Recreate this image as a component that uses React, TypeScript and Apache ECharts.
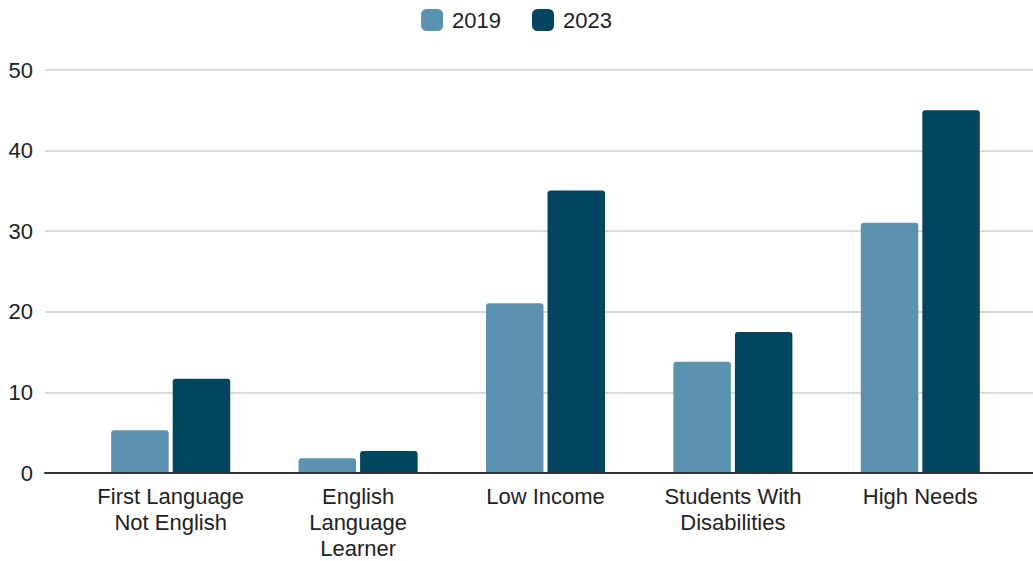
import React, { useEffect, useRef } from "react";
import * as echarts from "echarts";

const categories = [
  "First Language\nNot English",
  "English\nLanguage\nLearner",
  "Low Income",
  "Students With\nDisabilities",
  "High Needs",
];
const seriesNames = ["2019", "2023"];
const values2019 = [5.2, 1.7, 21.0, 13.7, 31.0];
const values2023 = [11.6, 2.6, 35.0, 17.4, 45.0];
const colors = ["#5a92b0", "#01455f"];

const FONT = "'Liberation Sans', Arial, sans-serif";

export default function App() {
  const ref = useRef<HTMLDivElement>(null);
  useEffect(() => {
    if (!ref.current) return;
    const chart = echarts.init(ref.current, null, { renderer: "svg" });
    chart.setOption({
      animation: false,
      backgroundColor: "#ffffff",
      textStyle: { fontFamily: FONT },
      legend: {
        data: seriesNames,
        top: 4,
        left: "center",
        itemWidth: 22,
        itemHeight: 22,
        itemGap: 31,
        icon: "roundRect",
        textStyle: { fontSize: 22, color: "#222222", fontFamily: FONT, padding: [0, 0, 0, 4] },
      },
      grid: [
        { left: 45, right: 0, top: 70, bottom: 88, containLabel: false },
        { left: 77, right: 19, top: 70, bottom: 88, containLabel: false },
      ],
      xAxis: [
        {
          gridIndex: 0,
          type: "category",
          data: [""],
          axisLine: { show: true, lineStyle: { color: "#333333", width: 2 } },
          axisTick: { show: false },
          axisLabel: { show: false },
          z: 10,
        },
        {
          gridIndex: 1,
          type: "category",
          data: categories,
          axisLine: { show: false },
          axisTick: { show: false },
          axisLabel: {
            fontSize: 22,
            lineHeight: 26,
            color: "#222222",
            fontFamily: FONT,
            margin: 11,
            interval: 0,
          },
        },
      ],
      yAxis: [
        {
          gridIndex: 0,
          type: "value",
          min: 0,
          max: 50,
          interval: 10,
          axisLine: { show: false },
          axisTick: { show: false },
          axisLabel: { fontSize: 22, color: "#222222", fontFamily: FONT, margin: 12 },
          splitLine: { lineStyle: { color: "#cccccc", width: 1.5 } },
        },
        {
          gridIndex: 1,
          type: "value",
          min: 0,
          max: 50,
          interval: 10,
          show: false,
          splitLine: { show: false },
        },
      ],
      series: [
        {
          name: seriesNames[0],
          type: "bar",
          xAxisIndex: 1,
          yAxisIndex: 1,
          data: values2019,
          barWidth: 57.5,
          barGap: "7%",
          itemStyle: { color: colors[0], borderRadius: [3, 3, 0, 0] },
        },
        {
          name: seriesNames[1],
          type: "bar",
          xAxisIndex: 1,
          yAxisIndex: 1,
          data: values2023,
          barWidth: 57.5,
          barGap: "7%",
          itemStyle: { color: colors[1], borderRadius: [3, 3, 0, 0] },
        },
      ],
    });
    return () => chart.dispose();
  }, []);
  return (
    <div
      ref={ref}
      style={{ position: "fixed", left: 0, top: 0, width: 1033, height: 561, background: "#fff" }}
    />
  );
}
